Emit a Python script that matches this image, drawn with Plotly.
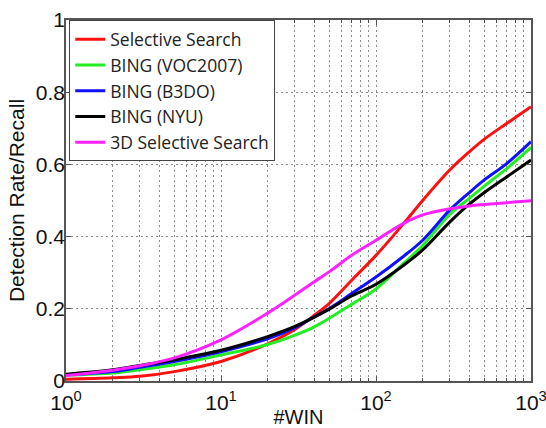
import plotly.graph_objects as go

win = [1, 2, 3, 5, 10, 20, 30, 40, 50, 70, 100, 150, 200, 300, 400, 500, 700, 1000]

selective_search = [0.005, 0.009, 0.013, 0.026, 0.054, 0.103, 0.143, 0.182, 0.215, 0.28,
                    0.348, 0.435, 0.50, 0.585, 0.635, 0.67, 0.714, 0.76]
bing_voc2007 = [0.016, 0.022, 0.031, 0.045, 0.072, 0.101, 0.127, 0.150, 0.174, 0.213,
                0.255, 0.325, 0.375, 0.462, 0.506, 0.54, 0.589, 0.647]
bing_b3do = [0.017, 0.026, 0.038, 0.054, 0.081, 0.117, 0.148, 0.178, 0.201, 0.243,
             0.288, 0.345, 0.39, 0.474, 0.522, 0.557, 0.603, 0.663]
bing_nyu = [0.019, 0.031, 0.043, 0.059, 0.085, 0.123, 0.151, 0.177, 0.199, 0.236,
            0.268, 0.32, 0.363, 0.441, 0.49, 0.522, 0.566, 0.612]
ss_3d = [0.015, 0.030, 0.042, 0.064, 0.114, 0.188, 0.238, 0.275, 0.303, 0.349,
         0.39, 0.436, 0.46, 0.477, 0.485, 0.489, 0.494, 0.4995]

series = [
    ("Selective Search", selective_search, "#FF1010"),
    ("BING (VOC2007)", bing_voc2007, "#22EE22"),
    ("BING (B3DO)", bing_b3do, "#1010FF"),
    ("BING (NYU)", bing_nyu, "#000000"),
    ("3D Selective Search", ss_3d, "#FF22FF"),
]

x_tickvals = [1, 10, 100, 1000]
x_ticktext = ["10<sup>0</sup>", "10<sup>1</sup>", "10<sup>2</sup>", "10<sup>3</sup>"]
y_tickvals = [0, 0.2, 0.4, 0.6, 0.8, 1]
y_ticktext = ["0", "0.2", "0.4", "0.6", "0.8", "1"]

fig = go.Figure()
for name, vals, col in series:
    fig.add_trace(go.Scatter(x=win, y=vals, mode="lines", name=name,
                             line=dict(color=col, width=3, shape="spline", smoothing=1.0)))

grid_col = "#8a8a8a"
axis_col = "#555555"
fig.update_layout(
    width=546, height=428,
    margin=dict(l=66, r=15, t=20, b=47),
    plot_bgcolor="white", paper_bgcolor="white",
    showlegend=True,
    legend=dict(x=0.007, y=0.999, xanchor="left", yanchor="top",
                bgcolor="white", bordercolor="#444444", borderwidth=1,
                font=dict(family="Open Sans", size=17.5, color="#222222"),
                tracegroupgap=0, itemwidth=30),
    font=dict(family="Liberation Sans", color="#111111"),
)
fig.update_xaxes(
    type="log", range=[0, 3],
    automargin=False, ticklabeloverflow="allow",
    tickvals=x_tickvals, ticktext=x_ticktext,
    tickfont=dict(size=21, color="#111111"),
    ticks="inside", ticklen=5, tickcolor=axis_col,
    ticklabelstandoff=2,
    showline=True, linecolor=axis_col, linewidth=1.5, mirror="ticks",
    showgrid=True, gridcolor=grid_col, griddash="2px,3px", gridwidth=1,
    minor=dict(dtick="D1", ticks="inside", ticklen=3, tickcolor=axis_col,
               showgrid=True, gridcolor=grid_col, griddash="2px,3px", gridwidth=1),
    title=dict(text="#WIN", font=dict(size=20), standoff=22),
    zeroline=False,
)
fig.update_yaxes(
    range=[0, 1],
    automargin=False, ticklabeloverflow="allow",
    tickvals=y_tickvals, ticktext=y_ticktext,
    tickfont=dict(size=21, color="#111111"),
    ticks="inside", ticklen=5, tickcolor=axis_col,
    ticklabelstandoff=-5,
    showline=True, linecolor=axis_col, linewidth=1.5, mirror="ticks",
    showgrid=True, gridcolor=grid_col, griddash="2px,3px", gridwidth=1,
    title=dict(text="Detection Rate/Recall", font=dict(size=21), standoff=5),
    zeroline=False,
)

fig.write_html("out.html", config={"displayModeBar": False},
               post_script="document.body.style.margin='0';document.body.style.overflow='hidden';")
